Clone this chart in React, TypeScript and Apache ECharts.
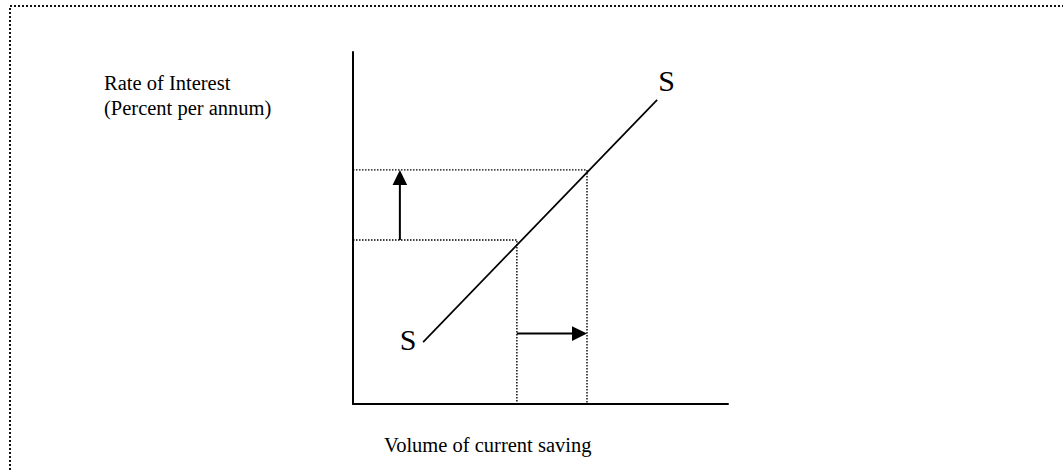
import React, { useEffect, useRef } from "react";
import * as echarts from "echarts";

// Axis units: 0..10 on both axes (no tick labels shown in the original)
const axisMin = 0;
const axisMax = 10;

// Supply curve S–S
const supplyX = [1.87, 8.11];
const supplyY = [1.76, 8.64];

// Two points on the supply curve (old and new equilibrium)
const pointLowX = 4.37;
const pointLowY = 4.66;
const pointHighX = 6.24;
const pointHighY = 6.65;

// Arrows: [x1, y1, x2, y2]
const rateArrow = [1.25, 4.66, 1.25, 6.65];
const volumeArrow = [4.37, 2.0, 6.24, 2.0];

// Curve labels
const curveLabels = ["S", "S"];
const curveLabelX = [1.47, 8.36];
const curveLabelY = [1.82, 9.2];

// Axis titles
const yTitleLines = ["Rate of Interest", "(Percent per annum)"];
const xTitle = "Volume of current saving";

const SERIF = '"Liberation Serif", "Times New Roman", serif';

export default function App() {
  const ref = useRef<HTMLDivElement>(null);

  useEffect(() => {
    if (!ref.current) return;
    const chart = echarts.init(ref.current, null, { renderer: "svg" });

    const dotted = { color: "#000", width: 1.4, type: [1.5, 1.5] as any };

    const option: any = {
      animation: false,
      backgroundColor: "#fff",
      grid: { left: 353, right: 335, top: 52, bottom: 66, containLabel: false },
      xAxis: {
        type: "value",
        min: axisMin,
        max: axisMax,
        axisLine: { show: true, lineStyle: { color: "#000", width: 2 } },
        axisTick: { show: false },
        axisLabel: { show: false },
        splitLine: { show: false },
      },
      yAxis: {
        type: "value",
        min: axisMin,
        max: axisMax,
        axisLine: { show: true, lineStyle: { color: "#000", width: 2 } },
        axisTick: { show: false },
        axisLabel: { show: false },
        splitLine: { show: false },
      },
      series: [
        {
          type: "line",
          silent: true,
          showSymbol: false,
          symbol: "none",
          clip: false,
          data: [
            [axisMin, pointLowY],
            [pointLowX, pointLowY],
            [pointLowX, axisMin],
          ],
          lineStyle: dotted,
        },
        {
          type: "line",
          silent: true,
          showSymbol: false,
          symbol: "none",
          clip: false,
          data: [
            [axisMin, pointHighY],
            [pointHighX, pointHighY],
            [pointHighX, axisMin],
          ],
          lineStyle: dotted,
        },
        {
          type: "line",
          silent: true,
          showSymbol: false,
          symbol: "none",
          clip: false,
          data: supplyX.map((x, i) => [x, supplyY[i]]),
          lineStyle: { color: "#000", width: 1.7 },
        },
        {
          type: "custom",
          silent: true,
          clip: false,
          encode: { x: [0, 2], y: [1, 3] },
          data: [rateArrow, volumeArrow],
          renderItem: (_params: any, api: any) => {
            const s = api.coord([api.value(0), api.value(1)]);
            const e = api.coord([api.value(2), api.value(3)]);
            const dx = e[0] - s[0];
            const dy = e[1] - s[1];
            const len = Math.hypot(dx, dy) || 1;
            const ux = dx / len;
            const uy = dy / len;
            const head = 15;
            const half = 7.3;
            const bx = e[0] - ux * head;
            const by = e[1] - uy * head;
            const px = -uy;
            const py = ux;
            return {
              type: "group",
              children: [
                {
                  type: "line",
                  shape: { x1: s[0], y1: s[1], x2: bx + ux, y2: by + uy },
                  style: { stroke: "#000", lineWidth: 2 },
                },
                {
                  type: "polygon",
                  shape: {
                    points: [
                      [e[0], e[1]],
                      [bx + px * half, by + py * half],
                      [bx - px * half, by - py * half],
                    ],
                  },
                  style: { fill: "#000" },
                },
              ],
            };
          },
        },
        {
          type: "custom",
          silent: true,
          clip: false,
          encode: { x: 0, y: 1 },
          data: curveLabelX.map((x, i) => [x, curveLabelY[i]]),
          renderItem: (params: any, api: any) => {
            const p = api.coord([api.value(0), api.value(1)]);
            return {
              type: "text",
              x: p[0],
              y: p[1],
              style: {
                text: curveLabels[params.dataIndex],
                font: `30px ${SERIF}`,
                fill: "#000",
                textAlign: "center",
                textVerticalAlign: "middle",
              },
            };
          },
        },
      ],
      graphic: [
        {
          type: "polyline",
          silent: true,
          shape: {
            points: [
              [10, 470],
              [10, 6],
              [1063, 6],
            ],
          },
          style: { stroke: "#111", lineWidth: 2, lineDash: [2, 2], fill: null },
        },
        {
          type: "text",
          silent: true,
          x: 104,
          y: 83,
          style: {
            text: yTitleLines[0],
            font: `20.5px ${SERIF}`,
            fill: "#000",
            textAlign: "left",
            textVerticalAlign: "middle",
          },
        },
        {
          type: "text",
          silent: true,
          x: 104,
          y: 107.5,
          style: {
            text: yTitleLines[1],
            font: `20.5px ${SERIF}`,
            fill: "#000",
            textAlign: "left",
            textVerticalAlign: "middle",
          },
        },
        {
          type: "text",
          silent: true,
          x: 384,
          y: 445,
          style: {
            text: xTitle,
            font: `20.5px ${SERIF}`,
            fill: "#000",
            textAlign: "left",
            textVerticalAlign: "middle",
          },
        },
      ],
    };

    chart.setOption(option);
    return () => chart.dispose();
  }, []);

  return (
    <div
      ref={ref}
      style={{ position: "fixed", left: 0, top: 0, width: 1063, height: 470 }}
    />
  );
}
